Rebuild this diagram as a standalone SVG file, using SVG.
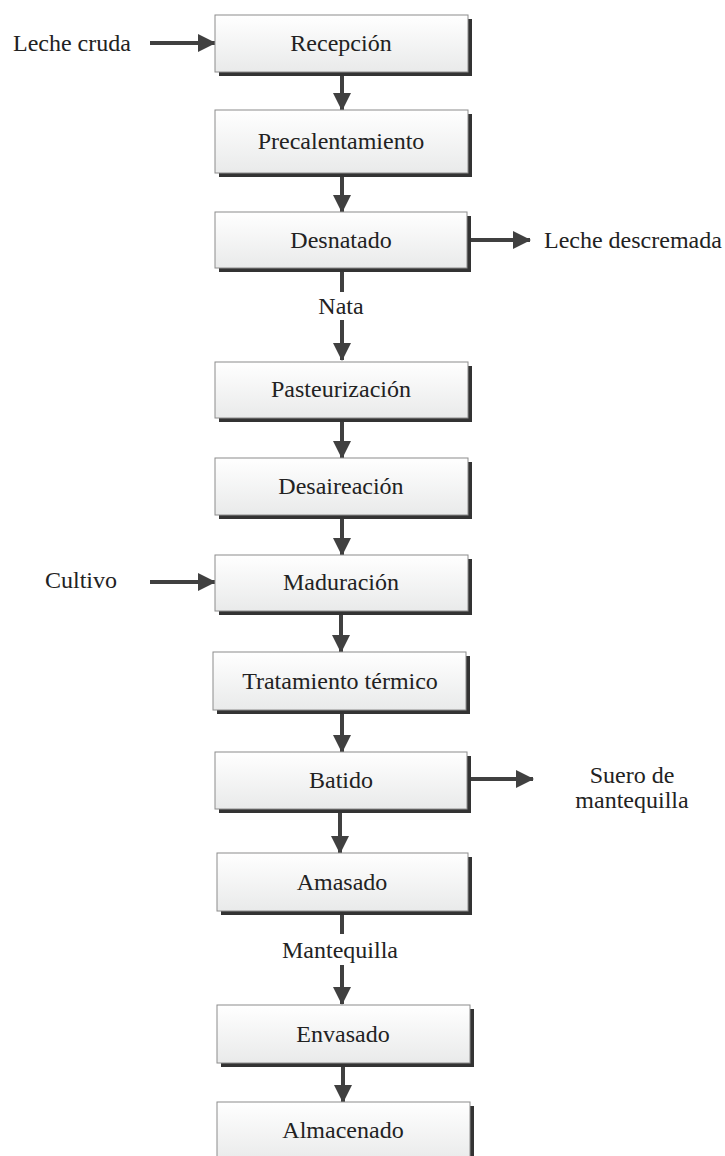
<svg xmlns="http://www.w3.org/2000/svg" width="725" height="1156" viewBox="0 0 725 1156">
  <defs>
    <linearGradient id="boxFill" x1="0" y1="0" x2="0" y2="1">
      <stop offset="0" stop-color="#ffffff"/>
      <stop offset="1" stop-color="#e9eaea"/>
    </linearGradient>
    <marker id="head" viewBox="0 0 18 18" markerWidth="18" markerHeight="18" refX="17" refY="9" orient="auto" markerUnits="userSpaceOnUse">
      <path d="M0,0 L18,9 L0,18 Z" fill="#404040"/>
    </marker>
  </defs>
  <style>
    .shadow { fill: #333333; }
    .box { fill: url(#boxFill); stroke: #8c8c8c; stroke-width: 1; }
    .mid { text-anchor: middle; }
    .flow { stroke: #404040; stroke-width: 4; fill: none; }
    .arrow { stroke: #404040; stroke-width: 4; fill: none; marker-end: url(#head); }
  </style>
  <rect width="725" height="1156" fill="#ffffff"/>

  <!-- connectors -->
  <g id="connectors">
    <line class="arrow" x1="150" y1="43" x2="215" y2="43"/>
    <line class="arrow" x1="342" y1="72" x2="342" y2="110"/>
    <line class="arrow" x1="342" y1="173" x2="342" y2="212"/>
    <line class="arrow" x1="466" y1="240" x2="530" y2="240"/>
    <line class="flow" x1="342" y1="268" x2="342" y2="292"/>
    <line class="arrow" x1="342" y1="320" x2="342" y2="360"/>
    <line class="arrow" x1="342" y1="418" x2="342" y2="458"/>
    <line class="arrow" x1="342" y1="515" x2="342" y2="555"/>
    <line class="arrow" x1="150" y1="582" x2="215" y2="582"/>
    <line class="arrow" x1="341" y1="611" x2="341" y2="652"/>
    <line class="arrow" x1="342" y1="710" x2="342" y2="752"/>
    <line class="arrow" x1="470" y1="779" x2="533" y2="779"/>
    <line class="arrow" x1="340" y1="809" x2="340" y2="853"/>
    <line class="flow" x1="342" y1="911" x2="342" y2="934"/>
    <line class="arrow" x1="342" y1="965" x2="342" y2="1004"/>
    <line class="arrow" x1="343" y1="1063" x2="343" y2="1102"/>
  </g>

  <!-- free-standing labels -->
  <g id="labels" fill="#222222" font-family="Liberation Serif" font-size="24">
    <text font-family="Liberation Serif" x="13" y="51">Leche cruda</text>
    <text font-family="Liberation Serif" x="544" y="248">Leche descremada</text>
    <text font-family="Liberation Serif" class="mid" x="341" y="314">Nata</text>
    <text font-family="Liberation Serif" x="45" y="588">Cultivo</text>
    <text font-family="Liberation Serif" class="mid" x="632" y="783">Suero de</text>
    <text font-family="Liberation Serif" class="mid" x="632" y="808">mantequilla</text>
    <text font-family="Liberation Serif" class="mid" x="340" y="958">Mantequilla</text>
  </g>

  <!-- process steps -->
  <g id="steps" fill="#222222" font-family="Liberation Serif" font-size="24">
    <g id="recepcion">
      <rect class="shadow" x="219" y="19" width="253" height="57"/>
      <rect class="box" x="215" y="15" width="253" height="57"/>
      <text font-family="Liberation Serif" class="mid" x="341" y="51">Recepción</text>
    </g>
    <g id="precalentamiento">
      <rect class="shadow" x="219" y="114" width="253" height="63"/>
      <rect class="box" x="215" y="110" width="253" height="63"/>
      <text font-family="Liberation Serif" class="mid" x="341" y="149">Precalentamiento</text>
    </g>
    <g id="desnatado">
      <rect class="shadow" x="219" y="216" width="252" height="56"/>
      <rect class="box" x="215" y="212" width="252" height="56"/>
      <text font-family="Liberation Serif" class="mid" x="341" y="248">Desnatado</text>
    </g>
    <g id="pasteurizacion">
      <rect class="shadow" x="219" y="366" width="253" height="56"/>
      <rect class="box" x="215" y="362" width="253" height="56"/>
      <text font-family="Liberation Serif" class="mid" x="341" y="397">Pasteurización</text>
    </g>
    <g id="desaireacion">
      <rect class="shadow" x="219" y="462" width="253" height="57"/>
      <rect class="box" x="215" y="458" width="253" height="57"/>
      <text font-family="Liberation Serif" class="mid" x="341" y="494">Desaireación</text>
    </g>
    <g id="maduracion">
      <rect class="shadow" x="219" y="559" width="253" height="56"/>
      <rect class="box" x="215" y="555" width="253" height="56"/>
      <text font-family="Liberation Serif" class="mid" x="341" y="590">Maduración</text>
    </g>
    <g id="tratamiento-termico">
      <rect class="shadow" x="217" y="656" width="253" height="58"/>
      <rect class="box" x="213" y="652" width="253" height="58"/>
      <text font-family="Liberation Serif" class="mid" x="340" y="689">Tratamiento térmico</text>
    </g>
    <g id="batido">
      <rect class="shadow" x="219" y="756" width="252" height="57"/>
      <rect class="box" x="215" y="752" width="252" height="57"/>
      <text font-family="Liberation Serif" class="mid" x="341" y="788">Batido</text>
    </g>
    <g id="amasado">
      <rect class="shadow" x="221" y="857" width="251" height="58"/>
      <rect class="box" x="217" y="853" width="251" height="58"/>
      <text font-family="Liberation Serif" class="mid" x="342" y="890">Amasado</text>
    </g>
    <g id="envasado">
      <rect class="shadow" x="221" y="1009" width="253" height="58"/>
      <rect class="box" x="217" y="1005" width="253" height="58"/>
      <text font-family="Liberation Serif" class="mid" x="343" y="1042">Envasado</text>
    </g>
    <g id="almacenado">
      <rect class="shadow" x="221" y="1106" width="253" height="60"/>
      <rect class="box" x="217" y="1102" width="253" height="60"/>
      <text font-family="Liberation Serif" class="mid" x="343" y="1138">Almacenado</text>
    </g>
  </g>
</svg>
